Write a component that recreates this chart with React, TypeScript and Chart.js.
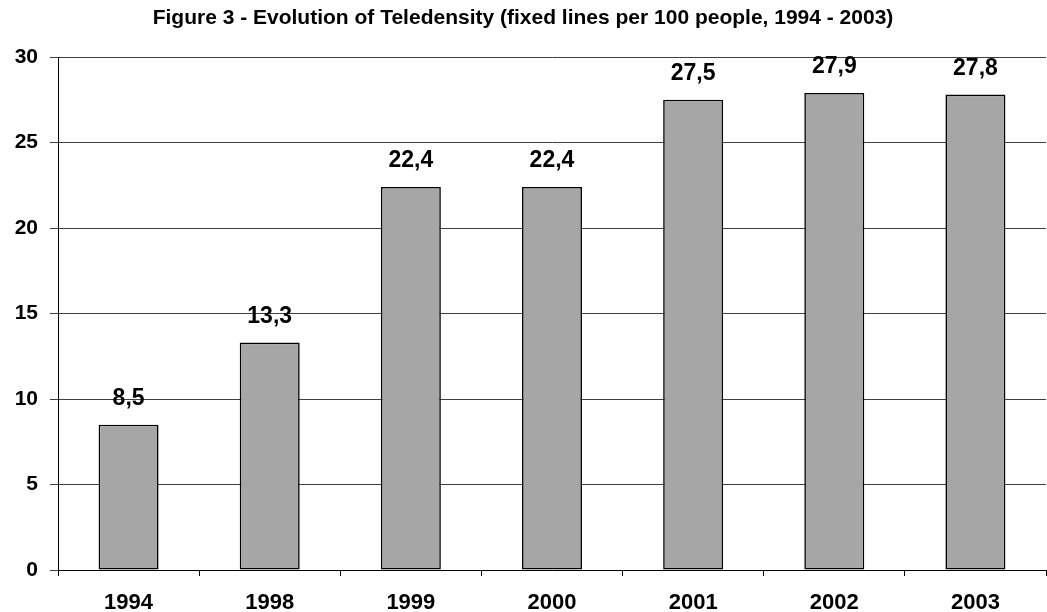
import React, { useEffect, useRef } from "react";
import { Chart, registerables } from "chart.js";

Chart.register(...registerables);

const categories = ["1994", "1998", "1999", "2000", "2001", "2002", "2003"];
const teledensity = [8.5, 13.3, 22.4, 22.4, 27.5, 27.9, 27.8];
const yTicks = [0, 5, 10, 15, 20, 25, 30];
const titleText = "Figure 3 - Evolution of Teledensity (fixed lines per 100 people, 1994 - 2003)";

const FONT = "'Liberation Sans', Arial, sans-serif";

const valueLabels = {
  id: "valueLabels",
  afterDatasetsDraw(chart: any) {
    const ctx = chart.ctx;
    const meta = chart.getDatasetMeta(0);
    ctx.save();
    ctx.font = `bold 23px ${FONT}`;
    ctx.fillStyle = "#000";
    ctx.textAlign = "center";
    ctx.textBaseline = "middle";
    meta.data.forEach((bar: any, i: number) => {
      const v = chart.data.datasets[0].data[i] as number;
      ctx.fillText(v.toFixed(1).replace(".", ","), bar.x, bar.y - 26);
    });
    ctx.restore();
  },
};

export default function App() {
  const ref = useRef<HTMLCanvasElement>(null);
  useEffect(() => {
    document.body.style.margin = "0";
    const chart = new Chart(ref.current!, {
      type: "bar",
      data: {
        labels: categories,
        datasets: [
          {
            data: teledensity,
            backgroundColor: "#a6a6a6",
            borderColor: "#000",
            borderWidth: 1.6,
            borderSkipped: false,
            barPercentage: 0.425,
            categoryPercentage: 1,
          },
        ],
      },
      plugins: [valueLabels],
      options: {
        animation: false,
        responsive: false,
        maintainAspectRatio: false,
        layout: { padding: { top: 0, right: 1, bottom: 0, left: 0 } },
        plugins: {
          legend: { display: false },
          tooltip: { enabled: false },
          title: {
            display: true,
            text: titleText,
            color: "#000",
            font: { family: FONT, size: 21, weight: "bold" },
            padding: { top: 6, bottom: 25.8 },
          },
        },
        scales: {
          x: {
            offset: true,
            grid: {
              offset: true,
              drawOnChartArea: false,
              drawTicks: true,
              tickLength: 6,
              color: "#000",
            },
            border: { display: true, color: "#000", width: 1 },
            ticks: {
              color: "#000",
              padding: 14,
              font: { family: FONT, size: 22, weight: "bold" },
              maxRotation: 0,
            },
            afterFit(scale: any) {
              scale.height = 42;
            },
          },
          y: {
            min: 0,
            max: 30,
            afterBuildTicks(scale: any) {
              scale.ticks = yTicks.map((v) => ({ value: v }));
            },
            grid: {
              color: "#404040",
              lineWidth: 1,
              drawTicks: true,
              tickLength: 8,
            },
            border: { display: true, color: "#000", width: 1 },
            ticks: {
              color: "#000",
              padding: 12,
              font: { family: FONT, size: 21, weight: "bold" },
            },
            afterFit(scale: any) {
              scale.width = 58;
            },
          },
        },
      },
    } as any);
    return () => chart.destroy();
  }, []);
  return (
    <div style={{ width: 1047, height: 612 }}>
      <canvas ref={ref} width={1047} height={612} style={{ display: "block" }} />
    </div>
  );
}
